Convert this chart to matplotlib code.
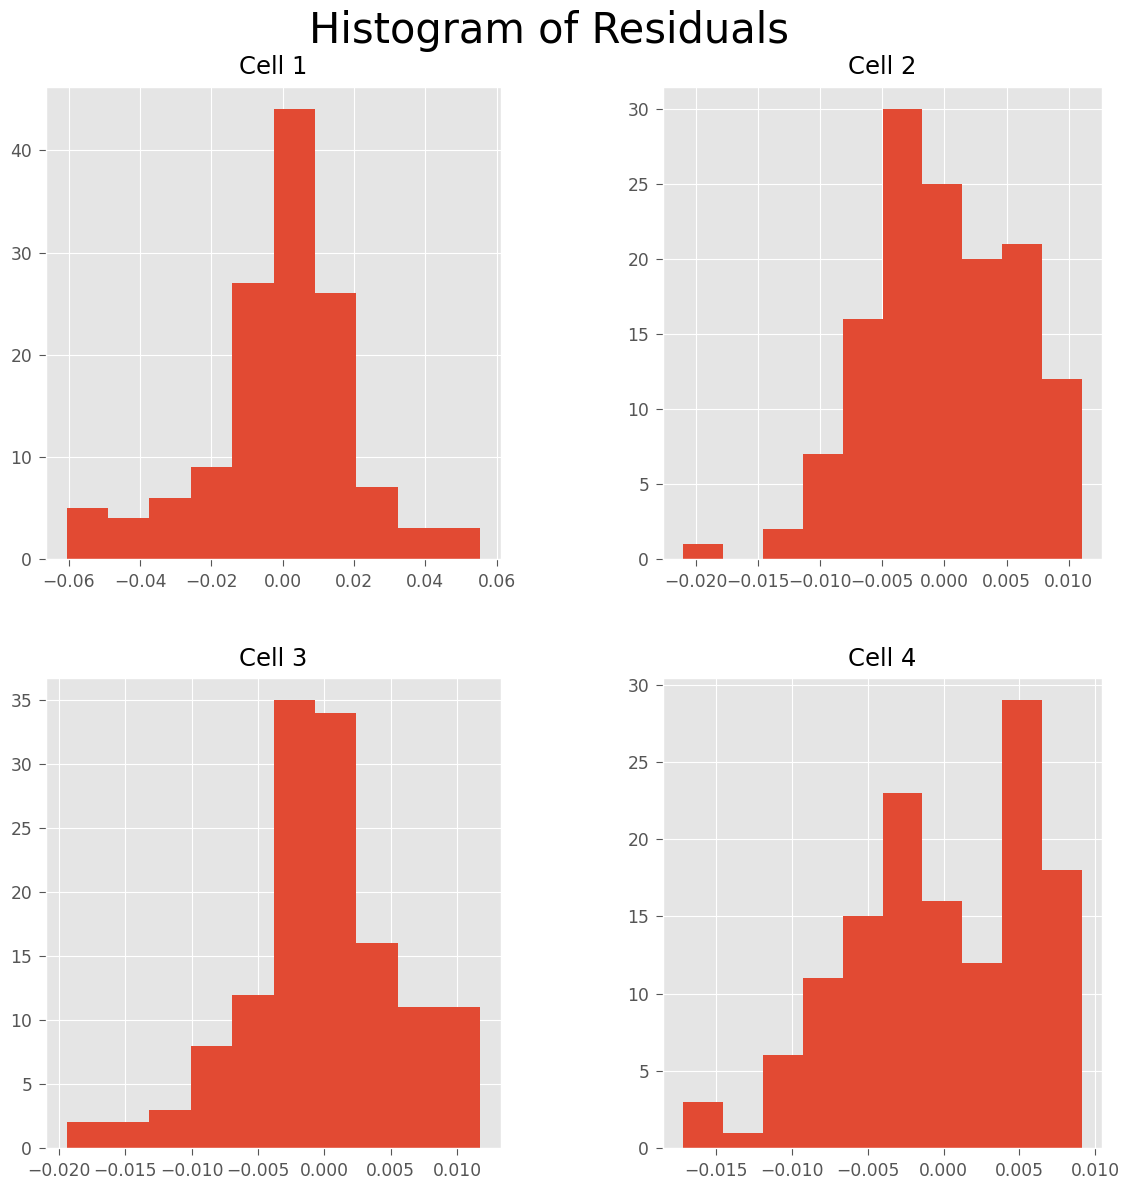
import matplotlib.pyplot as plt
import numpy as np

plt.style.use('ggplot')
plt.rcParams['axes.unicode_minus'] = True

cell_names = ['Cell 1', 'Cell 2', 'Cell 3', 'Cell 4']

# residual range (min, max) of each cell, split into 10 equal bins
cell_ranges = [
    (-0.0606, 0.0554),
    (-0.02102, 0.01106),
    (-0.0194, 0.01174),
    (-0.01719, 0.00913),
]

# count in each of the 10 bins
cell1_counts = [5, 4, 6, 9, 27, 44, 26, 7, 3, 3]
cell2_counts = [1, 0, 2, 7, 16, 30, 25, 20, 21, 12]
cell3_counts = [2, 2, 3, 8, 12, 35, 34, 16, 11, 11]
cell4_counts = [3, 1, 6, 11, 15, 23, 16, 12, 29, 18]
all_counts = [cell1_counts, cell2_counts, cell3_counts, cell4_counts]

W, H = 1142, 1184
fig = plt.figure(figsize=(W / 100, H / 100), dpi=100)

# axes boxes in pixels: left, top, right, bottom
boxes = [
    (46, 87, 501, 559),
    (663, 87, 1102, 559),
    (46, 678, 501, 1148),
    (663, 678, 1102, 1148),
]

for name, (lo, hi), counts, (l, t, r, b) in zip(cell_names, cell_ranges, all_counts, boxes):
    ax = fig.add_axes([l / W, 1 - b / H, (r - l) / W, (b - t) / H])
    edges = np.linspace(lo, hi, len(counts) + 1)
    centers = (edges[:-1] + edges[1:]) / 2
    ax.hist(centers, bins=edges, weights=counts, color='#E24A33')
    ax.set_title(name, fontsize=17.5, pad=9)
    ax.tick_params(labelsize=12.3, length=5, pad=5)

fig.text(0.481, 1 - 43 / H, 'Histogram of Residuals', fontsize=30,
         ha='center', va='baseline')

fig.savefig('out.png', dpi=100)
